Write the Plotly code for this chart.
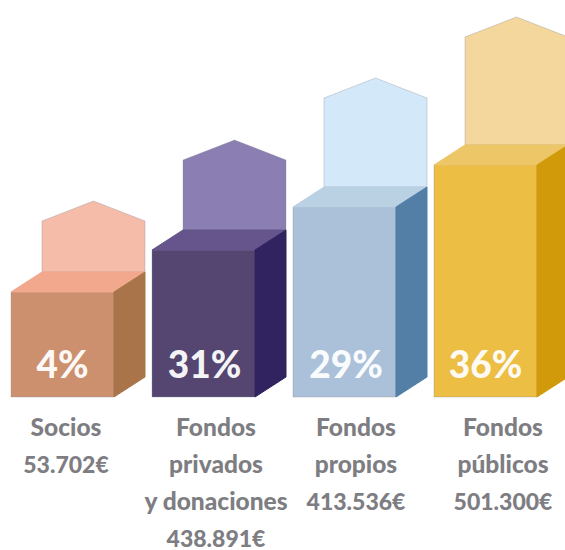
import plotly.graph_objects as go

# --- data ---
categories = ["Socios", "Fondos privados y donaciones", "Fondos propios", "Fondos públicos"]
percent_labels = ["4%", "31%", "29%", "36%"]
box_heights = [105, 147, 190, 232]
wall_heights = [51, 70, 89, 108]
label_lines = [
    ["Socios", "53.702€"],
    ["Fondos", "privados", "y donaciones", "438.891€"],
    ["Fondos", "propios", "413.536€"],
    ["Fondos", "públicos", "501.300€"],
]

# --- styles ---
front_colors = ["#CC906F", "#544671", "#ABC1D9", "#ECBE43"]
side_colors = ["#A9744A", "#31235F", "#537EA6", "#D19A0A"]
top_colors = ["#F1A88C", "#65558C", "#BAD0E3", "#EDC767"]
wall_colors = ["#F5BCAA", "#8A7EB3", "#D3E9FA", "#F3D79D"]
edge = "rgba(140,140,150,0.35)"
text_grey = "#7D7D82"

# --- layout constants (pixels in the axis frame) ---
W, H = 565, 550
BASE_PX = 397
X0, STEP, BW = 62.5, 141, 103
DX, DY = 31, 20          # depth of the box
ROOF = 20                # rise of the pentagon
LABEL_X = [66, 216, 356, 503]
LABEL_Y0, LABEL_DY = -32.5, 37.3
PCT_X_SHIFT = [0, 1, 1.5, 0]
PCT_Y = 28
NAME_SIZE, AMOUNT_SIZE = 24.5, 23

centers = [X0 + STEP * i for i in range(len(categories))]
fig = go.Figure()

# front faces
fig.add_trace(go.Bar(
    x=centers, y=box_heights, width=BW,
    marker=dict(color=front_colors, line=dict(color=edge, width=1)),
    hoverinfo="skip", showlegend=False,
))

def poly(xs, ys, color, line=None):
    fig.add_trace(go.Scatter(
        x=xs, y=ys, mode="lines", fill="toself", fillcolor=color,
        line=dict(color=line or color, width=1, shape="linear"),
        hoverinfo="skip", showlegend=False,
    ))

for c, h, w, fc, sc, tc, wc in zip(centers, box_heights, wall_heights,
                                   front_colors, side_colors, top_colors, wall_colors):
    l, r = c - BW / 2, c + BW / 2
    back_y = h + DY
    # rear pentagon
    poly([l + DX, l + DX, c + DX, r + DX, r + DX, l + DX],
         [back_y, back_y + w, back_y + w + ROOF, back_y + w, back_y, back_y], wc, edge)
    # top face
    poly([l, l + DX, r + DX, r, l], [h, back_y, back_y, h, h], tc)
    # side face
    poly([r, r + DX, r + DX, r, r], [0, DY, back_y, h, 0], sc)

# percent labels
fig.add_trace(go.Scatter(
    x=[c + s for c, s in zip(centers, PCT_X_SHIFT)], y=[PCT_Y] * len(centers),
    mode="text", text=percent_labels,
    textfont=dict(family="Lato", size=37, color="rgba(255,255,255,0.95)", weight=900),
    textposition="middle center", hoverinfo="skip", showlegend=False,
))

# category labels (last line of each is the amount)
for x, lines in zip(LABEL_X, label_lines):
    sizes = [NAME_SIZE] * (len(lines) - 1) + [AMOUNT_SIZE]
    fig.add_trace(go.Scatter(
        x=[x] * len(lines), y=[LABEL_Y0 - LABEL_DY * i for i in range(len(lines))],
        mode="text", text=lines,
        textfont=dict(family="Lato", size=sizes, color=text_grey, weight=900),
        textposition="middle center", hoverinfo="skip", showlegend=False,
    ))

fig.update_layout(
    width=W, height=H, margin=dict(l=0, r=0, t=0, b=0, pad=0),
    paper_bgcolor="white", plot_bgcolor="white",
    xaxis=dict(range=[0, W], visible=False, fixedrange=True),
    yaxis=dict(range=[BASE_PX - H, BASE_PX], visible=False, fixedrange=True),
    showlegend=False, hovermode=False,
)
fig.write_html("out.html", config={"displayModeBar": False},
               post_script="document.body.style.margin='0';document.body.style.overflow='hidden';")
